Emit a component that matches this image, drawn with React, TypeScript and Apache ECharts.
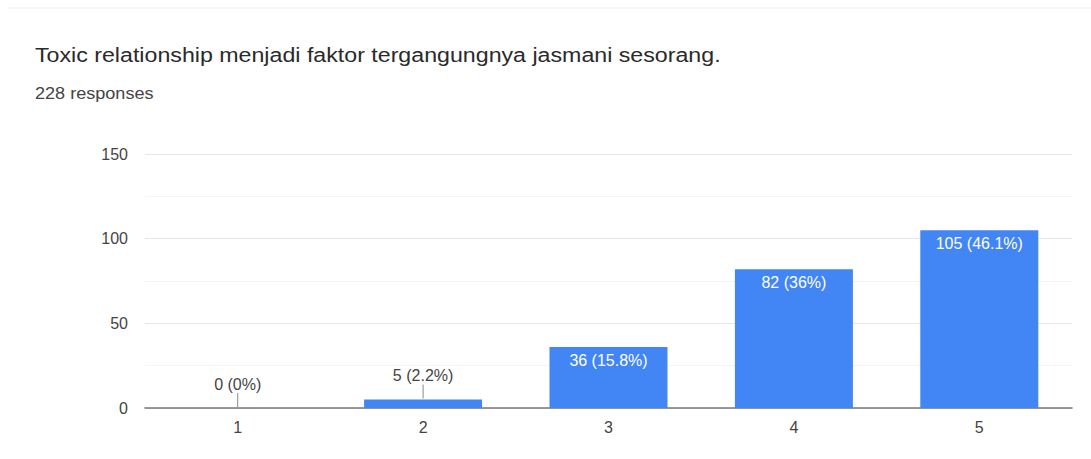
import React, { useEffect, useRef } from "react";
import * as echarts from "echarts";

const categories = ["1", "2", "3", "4", "5"];
const counts = [0, 5, 36, 82, 105];
const percents = ["0%", "2.2%", "15.8%", "36%", "46.1%"];
const titleText = "Toxic relationship menjadi faktor tergangungnya jasmani sesorang.";
const subtitleText = "228 responses";

const FONT = "'Liberation Sans', Arial, sans-serif";

export default function App() {
  const ref = useRef<HTMLDivElement>(null);
  useEffect(() => {
    const chart = echarts.init(ref.current!, null, { renderer: "svg" });
    const insideThreshold = 20;
    chart.setOption({
      animation: false,
      backgroundColor: "#ffffff",
      textStyle: { fontFamily: FONT },
      graphic: [
        {
          type: "line",
          shape: { x1: 8, y1: 8, x2: 1091, y2: 8 },
          style: { stroke: "#eceff1", lineWidth: 1 },
        },
        {
          type: "text",
          x: 35,
          y: 55,
          scaleX: 1.105,
          style: {
            text: titleText,
            fontSize: 21,
            fontFamily: FONT,
            fill: "#2a2a2a",
            verticalAlign: "middle",
            align: "left",
          },
        },
        {
          type: "text",
          x: 35,
          y: 94,
          scaleX: 1.13,
          style: {
            text: subtitleText,
            fontSize: 16,
            fontFamily: FONT,
            fill: "#444",
            verticalAlign: "middle",
            align: "left",
          },
        },
      ],
      grid: { left: 145, right: 19, top: 154, bottom: 51 },
      xAxis: {
        type: "category",
        data: categories,
        axisLine: { lineStyle: { color: "#777777", width: 1.5 } },
        axisTick: { show: false },
        axisLabel: { color: "#444", fontSize: 16, margin: 11 },
      },
      yAxis: {
        type: "value",
        min: 0,
        max: 150,
        interval: 25,
        axisLine: { show: false },
        axisTick: { show: false },
        axisLabel: {
          color: "#444",
          fontSize: 16,
          margin: 17,
          formatter: (v: number) => (v % 50 === 0 ? String(v) : ""),
        },
        splitLine: { lineStyle: { color: ["#e6e6e6", "#f4f4f4"], width: 1 } },
      },
      series: [
        {
          type: "bar",
          data: counts.map((v) =>
            v < insideThreshold ? { value: v, label: { show: false } } : v
          ),
          barWidth: 118,
          itemStyle: { color: "#4285f4" },
          label: {
            show: true,
            formatter: (p: any) => `${p.value} (${percents[p.dataIndex]})`,
            position: "insideTop",
            distance: 5,
            color: "#ffffff",
            fontSize: 16,
          },
        },
        {
          type: "bar",
          data: counts.map((v) => (v < insideThreshold ? v : "-")),
          barWidth: 118,
          barGap: "-100%",
          itemStyle: { color: "transparent" },
          silent: true,
          label: {
            show: true,
            position: "top",
            distance: 16,
            color: "#444",
            fontSize: 16,
            formatter: (p: any) => `${p.value} (${percents[p.dataIndex]})`,
          },
          z: 3,
        },
        {
          type: "custom",
          data: counts.map((v, i) => [i, v]),
          renderItem: (params: any, api: any) => {
            const v = api.value(1);
            if (v >= insideThreshold) return null;
            const p = api.coord([api.value(0), v]);
            return {
              type: "line",
              shape: { x1: p[0], y1: p[1] - 1, x2: p[0], y2: p[1] - 15 },
              style: { stroke: "#888", lineWidth: 1 },
            };
          },
          z: 4,
        },
      ],
    });
    return () => chart.dispose();
  }, []);
  return (
    <div
      ref={ref}
      style={{ position: "absolute", left: 0, top: 0, width: 1091, height: 459 }}
    />
  );
}
